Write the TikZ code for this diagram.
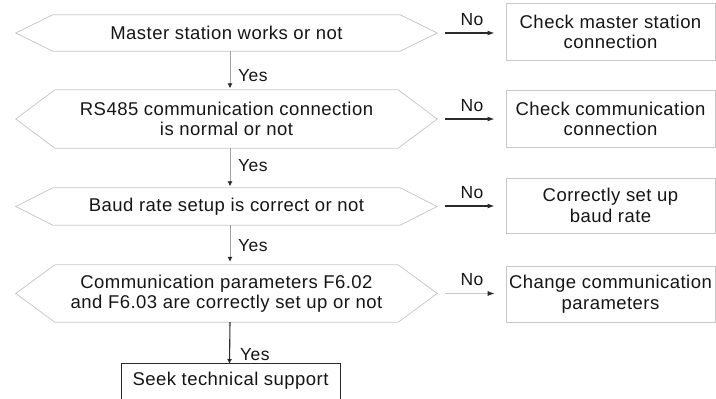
\documentclass[tikz,border=0pt]{standalone}
\usepackage{fontspec}
\setmainfont{Liberation Sans}[LetterSpace=2.5]
\usetikzlibrary{arrows.meta}
\definecolor{lineg}{HTML}{C8C8C8}
\definecolor{arrg}{HTML}{A0A0A0}
\definecolor{txt}{HTML}{151515}
\definecolor{dark}{HTML}{2A2A2A}
\tikzset{
  txtnode/.style={inner sep=0pt, text=txt, align=center, font=\fontsize{18.5}{20.5}\selectfont},
  hexnode/.style={txtnode, minimum width=421pt},
  actbox/.style={txtnode, draw=lineg, line width=0.8pt, minimum width=209pt, minimum height=57pt},
  yesarrow/.style={draw=arrg, line width=0.8pt, -{Latex[length=5pt,width=5pt,color=dark,fill=dark]}},
  noarrow/.style={draw=dark, line width=1.4pt, -{Latex[length=7pt,width=5pt,color=dark,fill=dark]}},
  hexline/.style={draw=lineg, line width=0.8pt},
  lbl/.style={inner sep=0pt, text=txt, font=\fontsize{17.5}{19}\selectfont}
}
\newcommand{\hexagonof}[2]{%
  \draw[hexline] (#1.west) -- ([xshift=#2]#1.north west) -- ([xshift=-#2]#1.north east) -- (#1.east) -- ([xshift=-#2]#1.south east) -- ([xshift=#2]#1.south west) -- cycle;}
\begin{document}
\begin{tikzpicture}[x=1pt,y=-1pt]
\useasboundingbox (0,0) rectangle (716,399);
\clip (0,0) rectangle (716,399);
% decisions
\node[hexnode, minimum height=36pt] (h1) at (226.5,33) {Master station works or not};
\node[hexnode, minimum height=58pt] (h2) at (226.5,119) {RS485 communication connection\\is normal or not};
\node[hexnode, minimum height=37pt] (h3) at (226.5,206.5) {Baud rate setup is correct or not};
\node[hexnode, minimum height=57pt] (h4) at (226.5,293.5) {Communication parameters F6.02\\and F6.03 are correctly set up or not};
\hexagonof{h1}{37pt}
\hexagonof{h2}{39pt}
\hexagonof{h3}{37pt}
\hexagonof{h4}{39pt}
% actions
\node[actbox] (b1) at (610.5,32) {Check master station\\connection};
\node[actbox] (b2) at (610.5,119) {Check communication\\connection};
\node[actbox, minimum height=55pt] (b3) at (610.5,205.5) {Correctly set up\\baud rate};
\node[actbox, minimum height=56pt] (b4) at (610.5,294) {Change communication\\parameters};
\node[txtnode, draw=dark, line width=1pt, minimum width=219pt, minimum height=60pt, anchor=north] (s) at (230.5,363) {};
\node[txtnode, anchor=base] (st) at (230.5,385.5) {Seek technical support};
% yes connectors
\draw[yesarrow] ([xshift=3.5pt]h1.south) -- ([xshift=3.5pt,yshift=1.5pt]h2.north);
\draw[yesarrow] ([xshift=3.5pt]h2.south) -- ([xshift=3.5pt,yshift=1.5pt]h3.north);
\draw[yesarrow] ([xshift=3.5pt]h3.south) -- ([xshift=3.5pt,yshift=3pt]h4.north);
\draw[yesarrow, draw=dark, line width=1.1pt] ([xshift=3.5pt]h4.south) -- ([xshift=-1pt,yshift=-1pt]s.north);
\node[lbl, anchor=west] (y1) at (238,76) {Yes};
\node[lbl, anchor=west] (y2) at (238,166) {Yes};
\node[lbl, anchor=west] (y3) at (238,246) {Yes};
\node[lbl, anchor=west] (y4) at (240,355) {Yes};
% no connectors
\draw[noarrow] ([xshift=8pt]h1.east) -- ([xshift=-11pt]h1.east -| b1.west);
\draw[noarrow] ([xshift=8pt]h2.east) -- ([xshift=-11pt]h2.east -| b2.west);
\draw[noarrow] ([xshift=8pt,yshift=0.5pt]h3.east) -- ([xshift=-11pt,yshift=0.5pt]h3.east -| b3.west);
\draw[noarrow, draw=lineg, line width=0.8pt] ([xshift=8pt]h4.east) -- ([xshift=-11pt]h4.east -| b4.west);
\node[lbl] (n1) at (472,19.5) {No};
\node[lbl] (n2) at (472,106) {No};
\node[lbl] (n3) at (472,193) {No};
\node[lbl] (n4) at (472,280) {No};
\end{tikzpicture}
\end{document}
